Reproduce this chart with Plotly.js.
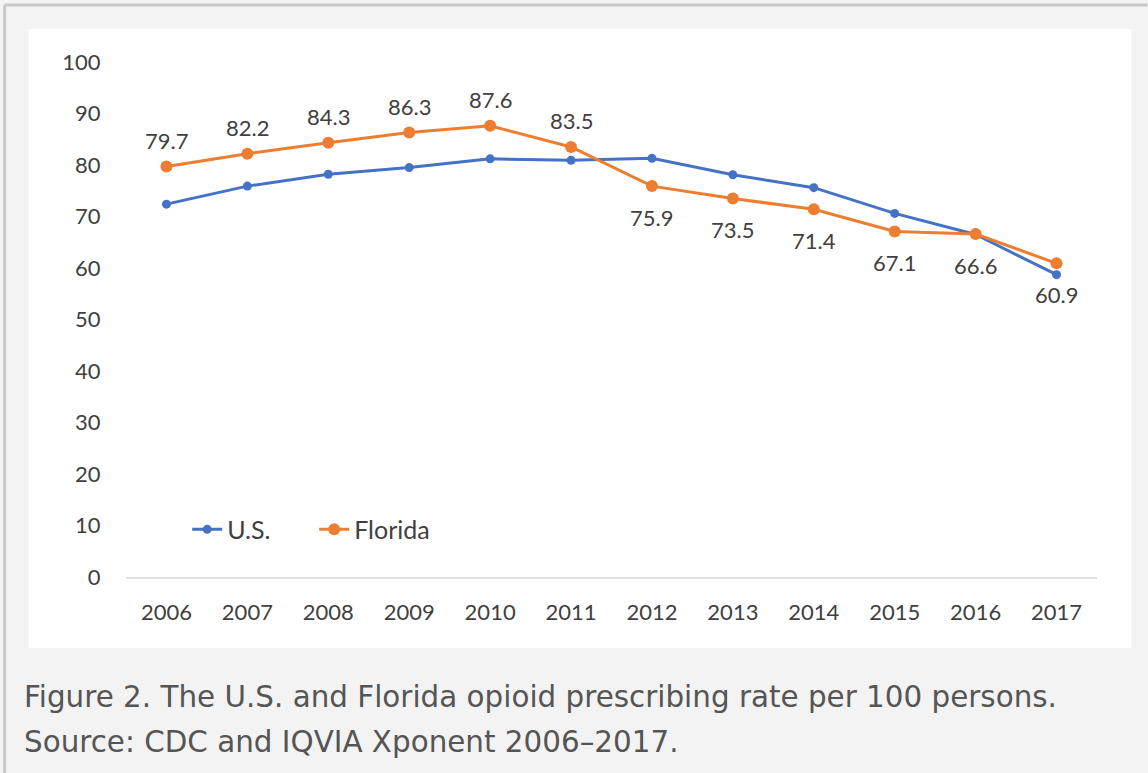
<!DOCTYPE html>
<html><head><meta charset="utf-8">
<script src="https://cdn.plot.ly/plotly-3.0.1.min.js"></script>
<style>html,body{margin:0;padding:0;background:#f3f3f3;}#chart{width:1148px;height:773px;}</style>
</head><body><div id="chart"></div>
<script>
const years = ['2006','2007','2008','2009','2010','2011','2012','2013','2014','2015','2016','2017'];
const usRate = [72.4,75.9,78.2,79.5,81.2,80.9,81.3,78.1,75.6,70.6,66.5,58.7];
const flRate = [79.7,82.2,84.3,86.3,87.6,83.5,75.9,73.5,71.4,67.1,66.6,60.9];
const flLabelAbove = [true,true,true,true,true,true,false,false,false,false,false,false];
const yTicks = [0,10,20,30,40,50,60,70,80,90,100];
const captionLines = ['Figure 2. The U.S. and Florida opioid prescribing rate per 100 persons.','Source: CDC and IQVIA Xponent 2006–2017.'];

const W=1148,H=773;
const txt='#404040';
const traces=[
 {x:years,y:usRate,name:'U.S.',type:'scatter',mode:'lines+markers',
  line:{color:'#4472C4',width:3},marker:{color:'#4472C4',size:9}},
 {x:years,y:flRate,name:'Florida',type:'scatter',mode:'lines+markers',
  line:{color:'#ED7D31',width:3},marker:{color:'#ED7D31',size:12}}
];
const dataLabels = years.map((yr,i)=>({x:i,y:flRate[i],xref:'x',yref:'y',text:flRate[i].toFixed(1),
  showarrow:false,yshift:flLabelAbove[i]?26:-31,xanchor:'center',yanchor:'middle',
  font:{family:'Lato, sans-serif',size:22,color:txt}}));
const layout={
 width:W,height:H,paper_bgcolor:'#f3f3f3',plot_bgcolor:'#ffffff',
 margin:{l:125.5,r:50.5,t:62,b:196},
 font:{family:'Lato, sans-serif',color:txt,size:22},
 showlegend:true,
 legend:{orientation:'h',x:0.063,y:0.092,xanchor:'left',yanchor:'middle',bgcolor:'rgba(0,0,0,0)',
   font:{family:'Lato, sans-serif',size:25,color:txt},itemwidth:30,entrywidth:82,entrywidthmode:'pixels'},
 xaxis:{type:'category',range:[-0.5,11.5],showgrid:false,zeroline:false,showline:true,linecolor:'#e0e0e0',linewidth:2,
   ticks:'outside',ticklen:15,tickcolor:'rgba(0,0,0,0)',tickfont:{family:'Lato, sans-serif',size:22,color:txt},fixedrange:true},
 yaxis:{range:[0,100],tickvals:yTicks,showgrid:false,zeroline:false,showline:false,
   ticks:'outside',ticklen:20,tickcolor:'rgba(0,0,0,0)',tickfont:{family:'Lato, sans-serif',size:22,color:txt},fixedrange:true},
 shapes:[
  {type:'rect',xref:'paper',yref:'paper',layer:'below',
   x0:(28-125.5)/972,x1:(1132-125.5)/972,y0:-(648-577)/515,y1:(577-29)/515,
   fillcolor:'#ffffff',line:{width:0}},
  {type:'line',xref:'paper',yref:'paper',x0:(4-125.5)/972,x1:(1148-125.5)/972,y0:(577-5)/515,y1:(577-5)/515,line:{color:'#c8c8c8',width:3}},
  {type:'line',xref:'paper',yref:'paper',x0:(4-125.5)/972,x1:(4-125.5)/972,y0:(577-5)/515,y1:(577-773)/515,line:{color:'#c8c8c8',width:3}}
 ],
 annotations:dataLabels.concat(captionLines.map((t,i)=>({text:t,xref:'paper',yref:'paper',x:(21-125.5)/972,y:(577-(697+45*i))/515,
   xanchor:'left',yanchor:'middle',showarrow:false,font:{family:'DejaVu Sans, sans-serif',size:29.4,color:'#555555'}})))
};
Plotly.newPlot('chart',traces,layout,{displayModeBar:false,staticPlot:true});
</script></body></html>
